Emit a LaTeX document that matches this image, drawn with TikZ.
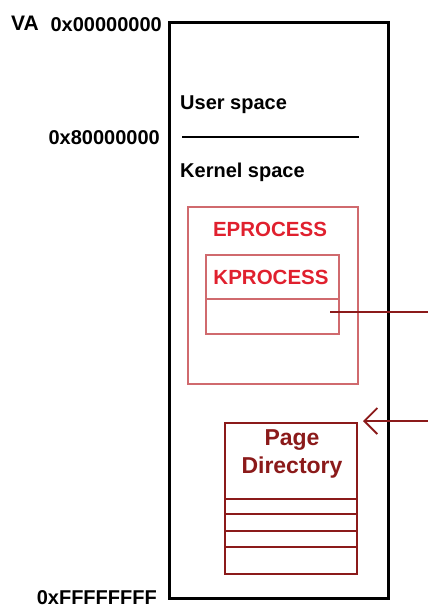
\documentclass[tikz,border=0pt]{standalone}
\usepackage{fontspec}
\setmainfont{Liberation Sans}
\usetikzlibrary{arrows.meta}
\definecolor{procred}{HTML}{D06A6E}
\definecolor{proctext}{HTML}{E0202E}
\definecolor{dirred}{HTML}{8B1A1A}
\tikzset{
  addr/.style={font=\fontsize{20}{22}\selectfont\bfseries, text=black, inner sep=0pt},
  region/.style={font=\fontsize{20}{22}\selectfont\bfseries, text=black, inner sep=0pt, anchor=west},
  proclabel/.style={font=\fontsize{20.5}{22}\selectfont\bfseries, text=proctext, inner sep=0pt},
  procbox/.style={draw=procred, line width=2pt, inner sep=0pt},
  dirbox/.style={draw=dirred, line width=2pt, inner sep=0pt},
  link/.style={draw=dirred, line width=1.6pt},
}
\begin{document}
\begin{tikzpicture}[x=1pt,y=-1pt]
\useasboundingbox (0,0) rectangle (428,608);

% virtual address space
\node[draw=black, line width=3pt, minimum width=219pt, minimum height=576pt, anchor=north west, inner sep=0pt] (va) at (168,21) {};
\node[addr, anchor=west, font=\fontsize{21}{22}\selectfont\bfseries] (valbl) at (11,23) {VA};
\node[addr, anchor=east] (a0) at (162,25) {0x00000000};
\node[addr, anchor=east] (a8) at (160,138) {0x80000000};
\node[addr, anchor=east] (af) at (157,598) {0xFFFFFFFF};

\node[region] (user) at (180,105) {User space};
\coordinate (split1) at (182,137);
\coordinate (split2) at (359,137);
\draw[line width=2pt] (split1) -- (split2);
\node[region] (kernel) at (180,172) {Kernel space};

% EPROCESS containing KPROCESS
\node[procbox, minimum width=170pt, minimum height=177pt, anchor=north west] (ep) at (187,206) {};
\node[proclabel] (eplbl) at (270,229) {EPROCESS};
\node[procbox, minimum width=133pt, minimum height=79pt, anchor=north west] (kp) at (205,254) {};
\node[proclabel] (kplbl) at (271,277) {KPROCESS};
\draw[procred, line width=2pt] (kp.west |- 0,299) -- (kp.east |- 0,299);

% page directory
\node[dirbox, minimum width=132pt, minimum height=151pt, anchor=north west] (pd) at (224,422) {};
\node[font=\fontsize{23}{28}\selectfont\bfseries, text=dirred, align=center, inner sep=0pt] (pdlbl) at (292,454) {Page\\Directory};
\foreach \yy in {499,514,531,547}
  \draw[dirred, line width=2pt] (pd.west |- 0,\yy) -- (pd.east |- 0,\yy);

% directory base pointer
\coordinate (slot) at (330,312);
\coordinate (out1) at (428,312);
\coordinate (out2) at (428,421);
\coordinate (tip) at (363,421);
\draw[link] (slot) -- (out1);
\draw[link, -{Straight Barb[length=13pt, width=26pt, line width=1.8pt]}] (out2) -- (tip);
\end{tikzpicture}
\end{document}
